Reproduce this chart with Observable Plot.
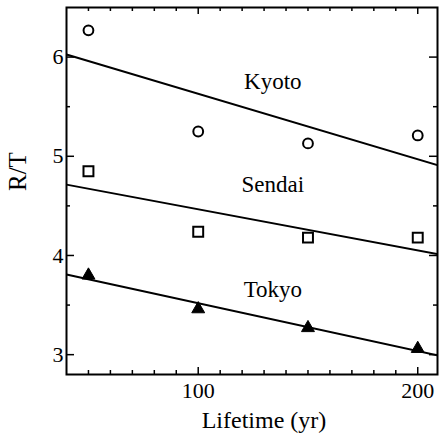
<!DOCTYPE html>
<html>
<head>
<meta charset="utf-8">
<script src="https://cdn.jsdelivr.net/npm/d3@7"></script>
<script src="https://cdn.jsdelivr.net/npm/@observablehq/plot@0.6"></script>
<style>
  html, body { margin: 0; padding: 0; background: #fff; }
  svg, svg text { font-family: "Liberation Serif", "DejaVu Serif", serif !important; }
</style>
</head>
<body>
<div id="chart"></div>
<script>
const years = [50, 100, 150, 200];
const kyoto = [6.27, 5.25, 5.13, 5.21];
const sendai = [4.85, 4.24, 4.18, 4.18];
const tokyo = [3.80, 3.46, 3.27, 3.06];
const cities = ["Kyoto", "Sendai", "Tokyo"];
const symbols = ["circle", "square", "triangle"];
const labelX = [134, 134, 134];
const labelY = [5.75, 4.71, 3.66];
const xMajor = [100, 200];
const xMinor = [50, 60, 70, 80, 90, 110, 120, 130, 140, 150, 160, 170, 180, 190];
const yMajor = [3, 4, 5, 6];
const yMinor = [3.5, 4.5, 5.5];

const width = 440, height = 435;
const marginTop = 7, marginBottom = 61, marginLeft = 66, marginRight = 3;
const innerH = height - marginTop - marginBottom;
const innerW = width - marginLeft - marginRight;
const xDomain = [40, 209];
const yDomain = [2.8, 6.5];

const series = [kyoto, sendai, tokyo];
const points = [];
series.forEach((vals, i) => vals.forEach((v, j) => points.push({city: cities[i], sym: symbols[i], x: years[j], y: v})));

// least-squares fit per city, evaluated across the x domain
const fits = [];
series.forEach((vals, i) => {
  const mx = d3.mean(years), my = d3.mean(vals);
  const sxy = d3.sum(years, (x, j) => (x - mx) * (vals[j] - my));
  const sxx = d3.sum(years, x => (x - mx) ** 2);
  const b = sxy / sxx;
  xDomain.forEach(x => fits.push({city: cities[i], x, y: my + b * (x - mx)}));
});

const labels = cities.map((c, i) => ({text: c, x: labelX[i], y: labelY[i]}));
const font = "Liberation Serif, DejaVu Serif, serif";

const chart = Plot.plot({
  width, height, marginTop, marginBottom, marginLeft, marginRight,
  style: {fontFamily: font, background: "#fff", color: "#000"},
  x: {domain: xDomain},
  y: {domain: yDomain},
  marks: [
    Plot.line(fits, {x: "x", y: "y", z: "city", stroke: "#000", strokeWidth: 2, clip: true}),
    Plot.dot(points.filter(d => d.sym === "circle"), {x: "x", y: "y", symbol: "circle", r: 4.9, stroke: "#000", strokeWidth: 2, fill: "#fff"}),
    Plot.dot(points.filter(d => d.sym === "square"), {x: "x", y: "y", symbol: "square", r: 5.6, stroke: "#000", strokeWidth: 2, fill: "#fff"}),
    Plot.dot(points.filter(d => d.sym === "triangle"), {x: "x", y: "y", symbol: "triangle", r: 4.8, fill: "#000", stroke: "#000", strokeWidth: 1}),
    Plot.text(labels, {x: "x", y: "y", text: "text", fontSize: 23, fontFamily: font, fill: "#000", textAnchor: "middle", lineAnchor: "middle"}),
    // inward ticks on all four sides
    Plot.tickX(xMinor, {x: d => d, insetTop: innerH - 4, strokeWidth: 1.5}),
    Plot.tickX(xMajor, {x: d => d, insetTop: innerH - 7, strokeWidth: 1.5}),
    Plot.tickX(xMinor, {x: d => d, insetBottom: innerH - 4, strokeWidth: 1.5}),
    Plot.tickX(xMajor, {x: d => d, insetBottom: innerH - 7, strokeWidth: 1.5}),
    Plot.tickY(yMajor, {y: d => d, insetRight: innerW - 8, strokeWidth: 1.5}),
    Plot.tickY(yMinor, {y: d => d, insetRight: innerW - 4, strokeWidth: 1.5}),
    Plot.tickY(yMajor, {y: d => d, insetLeft: innerW - 8, strokeWidth: 1.5}),
    Plot.tickY(yMinor, {y: d => d, insetLeft: innerW - 4, strokeWidth: 1.5}),
    Plot.axisX(xMajor, {anchor: "bottom", tickSize: 0, tickPadding: 8, fontSize: 22, fontFamily: font, tickFormat: d => String(d), label: null}),
    Plot.axisY(yMajor, {anchor: "left", tickSize: 0, tickPadding: 3, fontSize: 22, fontFamily: font, tickFormat: d => String(d), label: null}),
    Plot.text(["Lifetime (yr)"], {frameAnchor: "bottom", dx: 12, dy: 46, fontSize: 24, fontFamily: font, fill: "#000", lineAnchor: "middle"}),
    Plot.text(["R/T"], {frameAnchor: "left", dx: -49, rotate: -90, fontSize: 25, fontFamily: font, fill: "#000", lineAnchor: "middle"}),
    Plot.frame({stroke: "#000", strokeWidth: 2})
  ]
});
document.getElementById("chart").appendChild(chart);
</script>
</body>
</html>
